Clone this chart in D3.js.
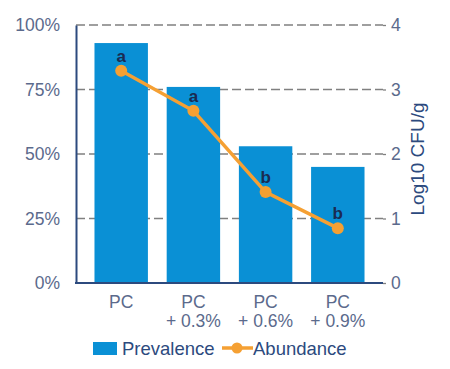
<!DOCTYPE html>
<html><head><meta charset="utf-8">
<script src="https://cdn.jsdelivr.net/npm/d3@7"></script>
<style>body{margin:0;background:#fff}svg{display:block}text{font-family:"Liberation Sans",Arial,sans-serif}</style>
</head><body><svg id="c" width="450" height="369"></svg>
<script>
const categories = [["PC"], ["PC", "+ 0.3%"], ["PC", "+ 0.6%"], ["PC", "+ 0.9%"]];
const prevalence = [93, 76, 53, 45];
const abundance = [3.29, 2.67, 1.41, 0.85];
const letters = ["a", "a", "b", "b"];
const leftTicks = [0, 25, 50, 75, 100];
const rightTicks = [0, 1, 2, 3, 4];

const svg = d3.select("#c");
const x0 = 76, x1 = 383, yTop = 25, yBot = 283;
const x = d3.scaleBand().domain(d3.range(categories.length)).range([x0, x1]).paddingInner(0.26).paddingOuter(0.256);
const yL = d3.scaleLinear().domain([0, 100]).range([yBot, yTop]);
const yR = d3.scaleLinear().domain([0, 4]).range([yBot, yTop]);
const blue = "#0a90d5", orange = "#f5a033", axisCol = "#2c4a7e", tickTxt = "#5b6a8c";

// grid
svg.append("g").selectAll("line").data(leftTicks.slice(1)).join("line")
  .attr("x1", x0).attr("x2", x1).attr("y1", d => yL(d)).attr("y2", d => yL(d))
  .attr("stroke", "#808080").attr("stroke-width", 1.3).attr("stroke-dasharray", "9,4");

// bars
svg.append("g").selectAll("rect").data(prevalence).join("rect")
  .attr("x", (d, i) => x(i)).attr("width", x.bandwidth())
  .attr("y", d => yL(d)).attr("height", d => yBot - yL(d)).attr("fill", blue);

// left axis
const la = svg.append("g").attr("transform", `translate(${x0},0)`)
  .call(d3.axisLeft(yL).tickValues(leftTicks).tickFormat(d => d + "%").tickSize(0).tickPadding(16));
la.select(".domain").attr("stroke", axisCol).attr("stroke-width", 2);
la.selectAll("text").attr("fill", tickTxt).attr("font-size", 17.5);

// right axis
const ra = svg.append("g").attr("transform", `translate(${x1},0)`)
  .call(d3.axisRight(yR).tickValues(rightTicks).tickFormat(d3.format("d")).tickSize(3).tickPadding(5));
ra.select(".domain").remove();
ra.selectAll("line").attr("stroke", "#808080").attr("stroke-width", 1.3);
ra.selectAll("text").attr("fill", tickTxt).attr("font-size", 17.5);

// baseline
svg.append("line").attr("x1", x0 - 1).attr("x2", x1).attr("y1", yBot).attr("y2", yBot)
  .attr("stroke", axisCol).attr("stroke-width", 2);

// right title
svg.append("text").attr("transform", `translate(424,159) rotate(-90)`).attr("text-anchor", "middle")
  .attr("fill", axisCol).attr("font-size", 19).text("Log10 CFU/g");

// x labels
const xl = svg.append("g");
categories.forEach((c, i) => {
  const t = xl.append("text").attr("text-anchor", "middle").attr("fill", tickTxt).attr("font-size", 17.5);
  c.forEach((s, j) => t.append("tspan").attr("x", x(i) + x.bandwidth() / 2).attr("y", 308 + j * 19).text(s));
});

// line
const cx = i => x(i) + x.bandwidth() / 2;
svg.append("path").datum(abundance)
  .attr("d", d3.line().x((d, i) => cx(i)).y(d => yR(d)))
  .attr("fill", "none").attr("stroke", orange).attr("stroke-width", 3.5);
svg.append("g").selectAll("circle").data(abundance).join("circle")
  .attr("cx", (d, i) => cx(i)).attr("cy", d => yR(d)).attr("r", 6).attr("fill", orange);
svg.append("g").selectAll("text").data(abundance).join("text")
  .attr("x", (d, i) => cx(i)).attr("y", d => yR(d) - 9).attr("text-anchor", "middle")
  .attr("font-weight", "bold").attr("font-size", 17).attr("fill", "#1a2b52").text((d, i) => letters[i]);

// legend
const lg = svg.append("g");
lg.append("rect").attr("x", 93).attr("y", 342).attr("width", 24).attr("height", 13).attr("fill", blue);
lg.append("text").attr("x", 122).attr("y", 355).attr("font-size", 18.5).attr("fill", axisCol).text("Prevalence");
lg.append("line").attr("x1", 222).attr("x2", 253).attr("y1", 348).attr("y2", 348).attr("stroke", orange).attr("stroke-width", 3.5);
lg.append("circle").attr("cx", 237).attr("cy", 348).attr("r", 5.5).attr("fill", orange);
lg.append("text").attr("x", 253).attr("y", 355).attr("font-size", 18.5).attr("fill", axisCol).text("Abundance");
</script></body></html>
